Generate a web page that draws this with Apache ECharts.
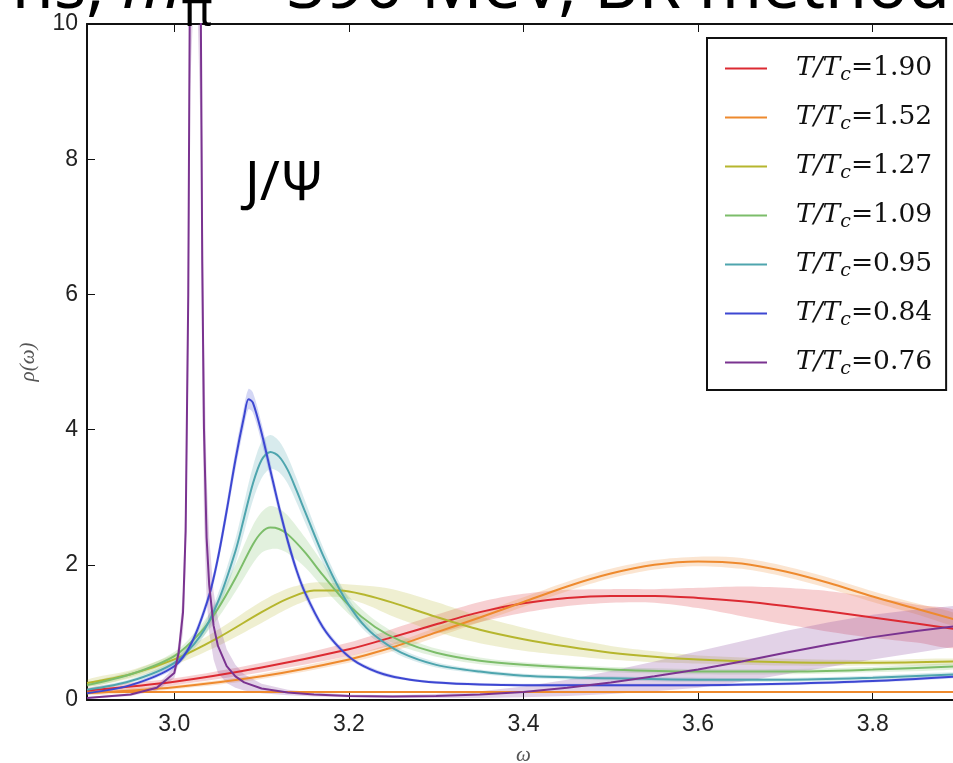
<!DOCTYPE html>
<html><head><meta charset="utf-8">
<script src="https://cdn.jsdelivr.net/npm/echarts@6/dist/echarts.min.js"></script>
<style>html,body{margin:0;padding:0;background:#fff}#c{width:953px;height:763px}</style>
</head><body><div id="c"></div>
<script>
// ---- data ----
const xTicks = [3.0, 3.2, 3.4, 3.6, 3.8];
const yTicks = [0, 2, 4, 6, 8, 10];
const labels = ['1.90', '1.52', '1.27', '1.09', '0.95', '0.84', '0.76'];
const colors = ['#dc2a32', '#ee8a2e', '#b6b62e', '#7cbd6a', '#4ea5ae', '#3d47d2', '#7a3390'];

const w190 = [2.90,3.00,3.10,3.20,3.25,3.30,3.35,3.40,3.45,3.50,3.55,3.60,3.65,3.70,3.75,3.80,3.85,3.90];
const r190 = [0.14,0.27,0.48,0.75,0.93,1.12,1.30,1.43,1.51,1.54,1.54,1.51,1.46,1.39,1.31,1.22,1.13,1.04];
const e190 = [0.04,0.05,0.07,0.10,0.12,0.14,0.15,0.14,0.12,0.10,0.10,0.15,0.22,0.27,0.30,0.30,0.28,0.25];

const w152 = [2.90,3.00,3.10,3.20,3.25,3.30,3.35,3.40,3.45,3.50,3.55,3.60,3.65,3.70,3.75,3.80,3.85,3.90];
const r152 = [0.10,0.19,0.35,0.60,0.78,1.00,1.22,1.45,1.68,1.87,2.00,2.05,2.02,1.90,1.73,1.53,1.35,1.17];
const e152 = [0.03,0.03,0.04,0.05,0.06,0.07,0.07,0.07,0.07,0.07,0.07,0.07,0.08,0.08,0.08,0.08,0.08,0.08];

const wFlat = [2.90, 3.90];
const rFlat = [0.12, 0.12];

const w127 = [2.90,2.95,3.00,3.05,3.10,3.13,3.16,3.19,3.22,3.25,3.30,3.35,3.40,3.45,3.50,3.55,3.60,3.70,3.80,3.90];
const r127 = [0.25,0.38,0.60,0.92,1.30,1.50,1.62,1.62,1.55,1.44,1.23,1.04,0.90,0.79,0.70,0.64,0.60,0.56,0.55,0.57];
const e127 = [0.05,0.06,0.08,0.12,0.16,0.15,0.12,0.10,0.14,0.20,0.22,0.20,0.17,0.13,0.10,0.08,0.06,0.05,0.04,0.04];

const w109 = [2.90,2.95,3.00,3.03,3.05,3.07,3.09,3.10,3.11,3.12,3.13,3.15,3.17,3.20,3.23,3.26,3.30,3.35,3.40,3.50,3.60,3.70,3.80,3.90];
const r109 = [0.22,0.38,0.65,1.00,1.35,1.80,2.30,2.48,2.55,2.53,2.45,2.18,1.85,1.40,1.08,0.87,0.70,0.58,0.52,0.45,0.42,0.42,0.45,0.50];
const e109 = [0.03,0.04,0.06,0.10,0.14,0.20,0.28,0.30,0.32,0.30,0.28,0.22,0.18,0.13,0.10,0.08,0.06,0.05,0.04,0.04,0.04,0.04,0.04,0.04];

const w095 = [2.90,2.95,3.00,3.03,3.05,3.07,3.08,3.09,3.10,3.11,3.12,3.13,3.14,3.15,3.17,3.19,3.21,3.23,3.26,3.30,3.35,3.40,3.50,3.60,3.70,3.80,3.90];
const r095 = [0.15,0.28,0.55,0.95,1.45,2.20,2.70,3.20,3.55,3.67,3.60,3.40,3.10,2.78,2.15,1.62,1.22,0.95,0.70,0.52,0.42,0.36,0.32,0.30,0.30,0.33,0.38];
const e095 = [0.02,0.03,0.05,0.08,0.12,0.18,0.22,0.25,0.27,0.25,0.23,0.20,0.18,0.16,0.12,0.10,0.08,0.06,0.05,0.04,0.03,0.03,0.03,0.03,0.03,0.03,0.03];

const w084 = [2.90,2.95,3.00,3.02,3.04,3.05,3.06,3.07,3.08,3.085,3.09,3.10,3.11,3.12,3.13,3.14,3.15,3.17,3.19,3.21,3.24,3.27,3.30,3.35,3.40,3.50,3.60,3.70,3.80,3.90];
const r084 = [0.10,0.22,0.50,0.85,1.55,2.10,2.80,3.55,4.20,4.45,4.40,3.95,3.40,2.85,2.35,1.92,1.58,1.08,0.76,0.55,0.38,0.30,0.26,0.23,0.22,0.22,0.22,0.24,0.28,0.35];
const e084 = [0.01,0.02,0.04,0.06,0.08,0.10,0.12,0.14,0.15,0.15,0.15,0.14,0.12,0.10,0.09,0.08,0.07,0.05,0.04,0.03,0.03,0.02,0.02,0.02,0.02,0.02,0.02,0.02,0.02,0.02];

const w076 = [2.90,2.95,2.98,3.00,3.005,3.01,3.013,3.016,3.018,3.021,3.024,3.027,3.030,3.032,3.034,3.037,3.04,3.045,3.05,3.06,3.07,3.08,3.10,3.13,3.16,3.20,3.25,3.30,3.35,3.40,3.45,3.50,3.55,3.60,3.65,3.70,3.75,3.80,3.85,3.90];
const r076 = [0.03,0.08,0.18,0.40,0.70,1.30,2.50,6.00,11.0,22.0,25.0,22.0,11.0,6.50,4.00,2.40,1.70,1.10,0.80,0.50,0.35,0.26,0.17,0.11,0.08,0.06,0.05,0.06,0.08,0.12,0.18,0.26,0.35,0.45,0.57,0.70,0.82,0.93,1.02,1.10];
const e076 = [0.01,0.02,0.04,0.08,0.15,0.30,0.60,1.20,2.00,3.00,3.00,3.00,2.50,1.80,1.30,0.90,0.70,0.50,0.40,0.25,0.17,0.12,0.07,0.04,0.03,0.02,0.02,0.03,0.05,0.08,0.12,0.17,0.22,0.27,0.30,0.32,0.33,0.33,0.32,0.30];

const sets = [
  [w190, r190, e190], [w152, r152, e152], [w127, r127, e127], [w109, r109, e109],
  [w095, r095, e095], [w084, r084, e084], [w076, r076, e076]
];

// ---- chart ----
const chart = echarts.init(document.getElementById('c'), null, {renderer: 'canvas'});
const YMAX = 10;

function bandSeries(idx) {
  const [w, r, e] = sets[idx];
  return {
    type: 'custom', silent: true, z: 1, clip: true,
    data: [[w[0], r[0]]],
    renderItem: function (params, api) {
      const pts = [];
      for (let i = 0; i < w.length; i++) pts.push(api.coord([w[i], Math.min(YMAX, r[i] + e[i])]));
      for (let i = w.length - 1; i >= 0; i--) pts.push(api.coord([w[i], Math.max(0, Math.min(YMAX, r[i] - e[i]))]));
      return {type: 'polygon', shape: {points: pts, smooth: idx === 6 ? 0 : 0.3}, style: {fill: colors[idx], opacity: 0.22}};
    }
  };
}
function lineSeries(idx) {
  const [w, r] = sets[idx];
  return {
    name: 'T/Tc=' + labels[idx], type: 'line', z: 3, showSymbol: false, clip: true,
    smooth: idx === 6 ? false : 0.3,
    color: colors[idx], lineStyle: {width: 2, color: colors[idx]},
    data: w.map((x, i) => [x, r[i]])
  };
}
const series = [];
for (let i = 0; i < 7; i++) series.push(bandSeries(i));
series.push({type: 'line', z: 2, showSymbol: false, silent: true, color: colors[1],
  lineStyle: {width: 2, color: colors[1]}, data: wFlat.map((x, i) => [x, rFlat[i]])});
for (let i = 0; i < 7; i++) series.push(lineSeries(i));

const serif = '"Liberation Serif", "DejaVu Serif", serif';
const lserif = '"DejaVu Serif", serif';
const option = {
  animation: false,
  backgroundColor: '#fff',
  grid: {left: 87, right: -7, top: 24, bottom: 63, outerBoundsMode: 'none', containLabel: false},
  xAxis: [{
    type: 'value', min: 2.9, max: 3.9,
    name: 'ω', nameLocation: 'middle', nameGap: 45,
    nameTextStyle: {fontFamily: serif, fontStyle: 'italic', fontSize: 21, color: '#555'},
    axisLine: {show: true, onZero: false, lineStyle: {color: '#111', width: 2}},
    axisTick: {show: true, inside: true, length: 8, customValues: xTicks, lineStyle: {color: '#111', width: 1}},
    axisLabel: {customValues: xTicks, formatter: v => v.toFixed(1), fontFamily: '"Liberation Sans", Arial, sans-serif', fontSize: 23, color: '#222', margin: 13},
    splitLine: {show: false}
  }, {
    type: 'value', position: 'top', min: 2.9, max: 3.9,
    axisLine: {show: true, onZero: false, lineStyle: {color: '#111', width: 2}},
    axisTick: {show: true, inside: true, length: 8, customValues: xTicks, lineStyle: {color: '#111', width: 1}},
    axisLabel: {show: false}, splitLine: {show: false}
  }],
  yAxis: {
    type: 'value', min: 0, max: 10, interval: 2,
    name: 'ρ(ω)', nameLocation: 'middle', nameGap: 48, nameRotate: 90,
    nameTextStyle: {fontFamily: serif, fontStyle: 'italic', fontSize: 21, color: '#555'},
    axisLine: {show: true, onZero: false, lineStyle: {color: '#111', width: 2}},
    axisTick: {show: true, inside: true, length: 8, lineStyle: {color: '#111', width: 1}},
    axisLabel: {fontFamily: '"Liberation Sans", Arial, sans-serif', fontSize: 23, color: '#222', margin: 9},
    splitLine: {show: false}
  },
  legend: {
    orient: 'vertical', left: 707, top: 38,
    data: labels.map(l => ({name: 'T/Tc=' + l, icon: 'rect'})),
    itemWidth: 42, itemHeight: 2, itemGap: 16,
    padding: [14, 14, 11, 18],
    borderColor: '#111', borderWidth: 2, backgroundColor: '#fff',
    formatter: n => '{t|T/T}{s|c}{n|=' + n.split('=')[1] + '}',
    textStyle: {
      padding: [0, 0, 0, 24],
      rich: {
        t: {fontFamily: lserif, fontStyle: 'italic', fontSize: 26.5, color: '#111', lineHeight: 33},
        s: {fontFamily: lserif, fontStyle: 'italic', fontSize: 19, color: '#111', lineHeight: 33, padding: [14, 0, 0, 0]},
        n: {fontFamily: lserif, fontSize: 26.5, color: '#111', lineHeight: 33}
      }
    }
  },
  graphic: [
    {type: 'text', left: 245, top: 158, style: {text: 'J/Ψ', font: '54px "Noto Sans", sans-serif', fill: '#000'}},
    {type: 'text', right: 3, top: -45, z: 100, style: {
      text: '{a|ns, }{m|m}{p|π}{a| = 390 MeV, BR method}',
      rich: {
        a: {font: '68px "Noto Sans", sans-serif', fill: '#000'},
        m: {font: 'italic 68px "Noto Sans", sans-serif', fill: '#000'},
        p: {font: '47px "Noto Sans", sans-serif', fill: '#000', padding: [47, 0, 0, 0]}
      }
    }}
  ],
  series: series
};
chart.setOption(option);
</script></body></html>
